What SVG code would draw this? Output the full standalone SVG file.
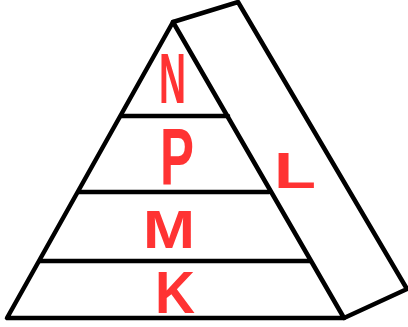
<svg xmlns="http://www.w3.org/2000/svg" width="408" height="327" viewBox="0 0 408 327">
<style>
.ln{fill:none;stroke:#000;stroke-width:4.5;stroke-linecap:round;stroke-linejoin:round}
.lt{fill:#ff3333;font-family:"Liberation Sans",Arial,sans-serif;font-weight:bold}
</style>
<rect width="408" height="327" fill="#fff"/>
<g id="pyramid">
<polygon class="ln" points="173,22 7,318 344,318"/>
<polyline class="ln" points="173,22 238,2 407,289 344,318"/>
<line class="ln" x1="121" y1="116" x2="228" y2="116"/>
<line class="ln" x1="79" y1="192" x2="269" y2="192"/>
<line class="ln" x1="40" y1="261" x2="310" y2="261"/>
</g>
<g id="labels">
<text class="lt" x="159" y="103" font-size="70" textLength="27" lengthAdjust="spacingAndGlyphs">N</text>
<text class="lt" x="160" y="184" font-size="80" textLength="34" lengthAdjust="spacingAndGlyphs">P</text>
<text class="lt" x="143" y="248" font-size="53" textLength="52" lengthAdjust="spacingAndGlyphs">M</text>
<text class="lt" x="155" y="313" font-size="60" textLength="40" lengthAdjust="spacingAndGlyphs">K</text>
<text class="lt" x="274" y="188" font-size="50" textLength="42" lengthAdjust="spacingAndGlyphs">L</text>
</g>
</svg>
